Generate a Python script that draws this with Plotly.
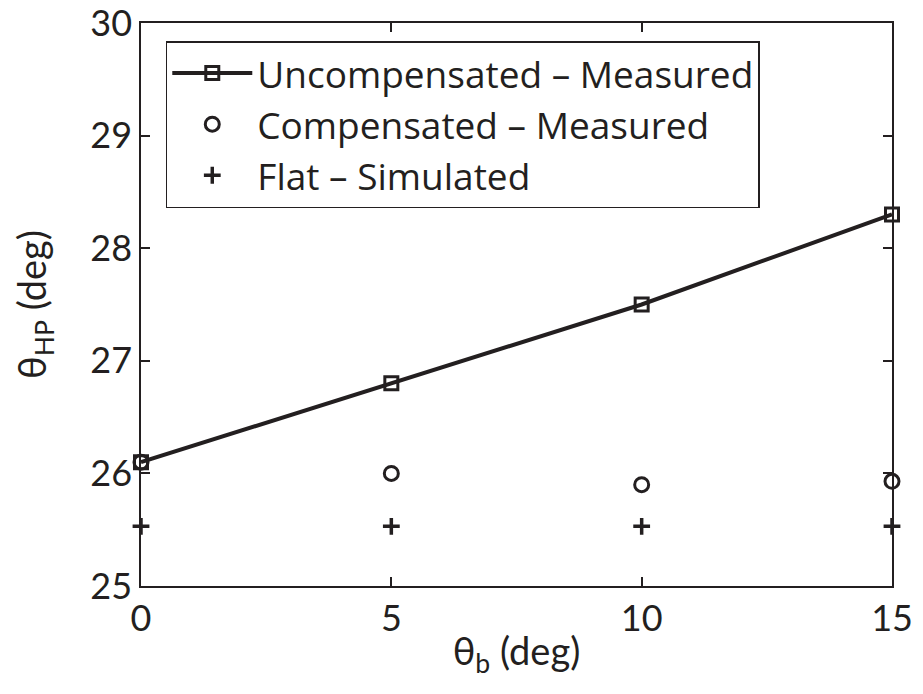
import plotly.graph_objects as go

theta_b = [0, 5, 10, 15]
uncompensated = [26.1, 26.8, 27.5, 28.3]
compensated = [26.1, 26.0, 25.9, 25.93]
flat = [25.53, 25.53, 25.53, 25.53]

FONT = "Lato"
LEG_FONT = "Open Sans"
INK = "#231f20"

fig = go.Figure()
fig.add_trace(go.Scatter(
    x=theta_b, y=uncompensated, mode="lines+markers",
    name="Uncompensated \u2013 Measured", cliponaxis=False,
    line=dict(color=INK, width=4),
    marker=dict(symbol="square-open", size=13, color=INK, line=dict(width=3, color=INK)),
))
fig.add_trace(go.Scatter(
    x=theta_b, y=compensated, mode="markers",
    name="Compensated \u2013 Measured", cliponaxis=False,
    marker=dict(symbol="circle-open", size=14, color=INK, line=dict(width=3, color=INK)),
))
fig.add_trace(go.Scatter(
    x=theta_b, y=flat, mode="markers",
    name="Flat \u2013 Simulated", cliponaxis=False,
    marker=dict(symbol="cross-thin", size=12, color=INK, line=dict(width=3.5, color=INK)),
))

axis_common = dict(
    showline=True, linecolor=INK, linewidth=1.5, mirror="ticks",
    ticks="inside", ticklen=9, tickcolor=INK, tickwidth=1.5,
    showgrid=False, zeroline=False, automargin=False,
    ticklabeloverflow="allow",
    tickfont=dict(family=FONT, size=36, color=INK),
)

fig.update_layout(
    width=923, height=694,
    margin=dict(l=141, r=31, t=23, b=108),
    paper_bgcolor="white", plot_bgcolor="white",
    font=dict(family=FONT, color=INK),
    xaxis=dict(range=[0, 15], tickvals=[0, 5, 10, 15],
               title=dict(text="\u03b8<sub>b</sub> (deg)", font=dict(family=FONT, size=38, color=INK), standoff=0),
               **axis_common),
    yaxis=dict(range=[25, 30], tickvals=[25, 26, 27, 28, 29, 30],
               title=dict(text="\u03b8<sub>HP</sub> (deg)", font=dict(family=FONT, size=38, color=INK), standoff=32),
               **axis_common),
    showlegend=True,
    legend=dict(
        x=0.033, y=0.968, xanchor="left", yanchor="top",
        bordercolor=INK, borderwidth=1.5, bgcolor="white",
        font=dict(family=LEG_FONT, size=37, color=INK),
        itemwidth=80, tracegroupgap=0,
    ),
)

fig.write_html("out.html")
